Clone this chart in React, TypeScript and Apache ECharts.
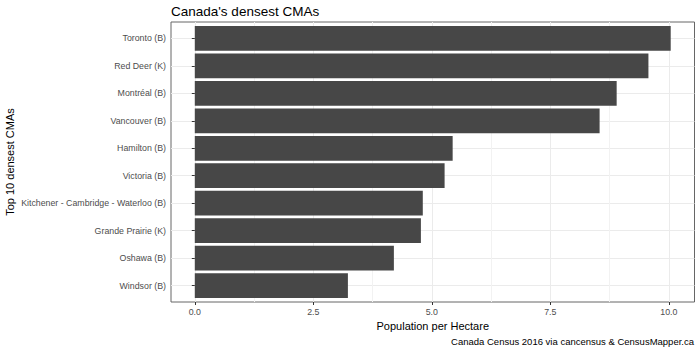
import React, { useEffect, useRef } from "react";
import * as echarts from "echarts";

const categories = [
  "Toronto (B)",
  "Red Deer (K)",
  "Montréal (B)",
  "Vancouver (B)",
  "Hamilton (B)",
  "Victoria (B)",
  "Kitchener - Cambridge - Waterloo (B)",
  "Grande Prairie (K)",
  "Oshawa (B)",
  "Windsor (B)",
];
const densities = [10.04, 9.57, 8.9, 8.54, 5.44, 5.27, 4.81, 4.77, 4.2, 3.23];
const xTicks = [0, 2.5, 5, 7.5, 10];
const xMinorTicks = [1.25, 3.75, 6.25, 8.75];

const titleText = "Canada's densest CMAs";
const xTitle = "Population per Hectare";
const yTitle = "Top 10 densest CMAs";
const captionText = "Canada Census 2016 via cancensus & CensusMapper.ca";

const FONT = "'Liberation Sans', Arial, Helvetica, sans-serif";

export default function App() {
  const ref = useRef<HTMLDivElement>(null);
  useEffect(() => {
    if (!ref.current) return;
    document.body.style.margin = "0";
    const chart = echarts.init(ref.current, null, { renderer: "svg" });
    const dMax = Math.max(...densities);
    const xMin = -0.05 * dMax;
    const xMax = 1.05 * dMax;
    const n = categories.length;
    const panelLeft = 171;
    const panelTop = 22;
    const panelW = 523.5;
    const panelH = 280;
    const unit = panelH / (n + 0.2);
    const catIdx = categories.map((_, i) => i + 1);

    chart.setOption({
      animation: false,
      backgroundColor: "#ffffff",
      textStyle: { fontFamily: FONT },
      title: {
        text: titleText,
        left: panelLeft,
        top: 4,
        padding: 0,
        textStyle: { fontSize: 13.5, fontWeight: "normal", color: "#000000", fontFamily: FONT },
      },
      grid: [
        {
          left: panelLeft,
          top: panelTop,
          width: panelW,
          height: panelH,
          show: true,
          borderColor: "#666666",
          borderWidth: 1,
          backgroundColor: "#ffffff",
        },
        {
          left: panelLeft,
          top: panelTop + 0.1 * unit,
          width: panelW,
          height: unit * n,
        },
      ],
      xAxis: [
        {
          gridIndex: 0,
          type: "value",
          min: xMin,
          max: xMax,
          axisLine: { show: false },
          axisTick: {
            show: true,
            length: 3,
            customValues: xTicks,
            lineStyle: { color: "#333333", width: 1 },
          },
          axisLabel: {
            show: true,
            customValues: xTicks,
            formatter: (v: number) => v.toFixed(1),
            color: "#4D4D4D",
            fontSize: 8.8,
            margin: 5,
            fontFamily: FONT,
          },
          splitLine: { show: true, lineStyle: { color: "#EBEBEB", width: 1 } },
          name: xTitle,
          nameLocation: "middle",
          nameGap: 18,
          nameTextStyle: { fontSize: 11, color: "#000000", fontFamily: FONT },
        },
        {
          gridIndex: 0,
          type: "value",
          min: xMin,
          max: xMax,
          position: "bottom",
          axisLine: { show: false },
          axisTick: { show: false, customValues: xMinorTicks },
          axisLabel: { show: false },
          splitLine: { show: true, lineStyle: { color: "#F2F2F2", width: 1 } },
        },
        {
          gridIndex: 1,
          type: "value",
          min: xMin,
          max: xMax,
          show: false,
          splitLine: { show: false },
        },
      ],
      yAxis: [
        {
          gridIndex: 0,
          type: "value",
          min: 0.4,
          max: n + 0.6,
          inverse: true,
          axisLine: { show: false },
          axisTick: { show: false, customValues: catIdx },
          axisLabel: { show: false },
          splitLine: { show: true, lineStyle: { color: "#EBEBEB", width: 1 } },
        },
        {
          gridIndex: 1,
          type: "category",
          data: categories,
          inverse: true,
          axisLine: { show: false },
          axisTick: {
            show: true,
            alignWithLabel: true,
            length: 3,
            lineStyle: { color: "#333333", width: 1 },
          },
          axisLabel: {
            color: "#4D4D4D",
            fontSize: 8.8,
            margin: 5,
            fontFamily: FONT,
          },
          splitLine: { show: false },
        },
      ],
      graphic: [
        {
          type: "text",
          x: 10,
          y: panelTop + panelH / 2,
          rotation: Math.PI / 2,
          style: {
            text: yTitle,
            fontSize: 11,
            fill: "#000000",
            fontFamily: FONT,
            align: "center",
            verticalAlign: "middle",
          },
        },
        {
          type: "text",
          right: 6,
          top: 336,
          style: {
            text: captionText,
            fontSize: 9.5,
            fill: "#000000",
            fontFamily: FONT,
            align: "right",
          },
        },
      ],
      series: [
        {
          type: "bar",
          xAxisIndex: 2,
          yAxisIndex: 1,
          data: densities,
          barWidth: "90%",
          itemStyle: { color: "#474747" },
          silent: true,
        },
      ],
    });
    return () => chart.dispose();
  }, []);
  return <div ref={ref} style={{ width: 700, height: 350 }} />;
}
